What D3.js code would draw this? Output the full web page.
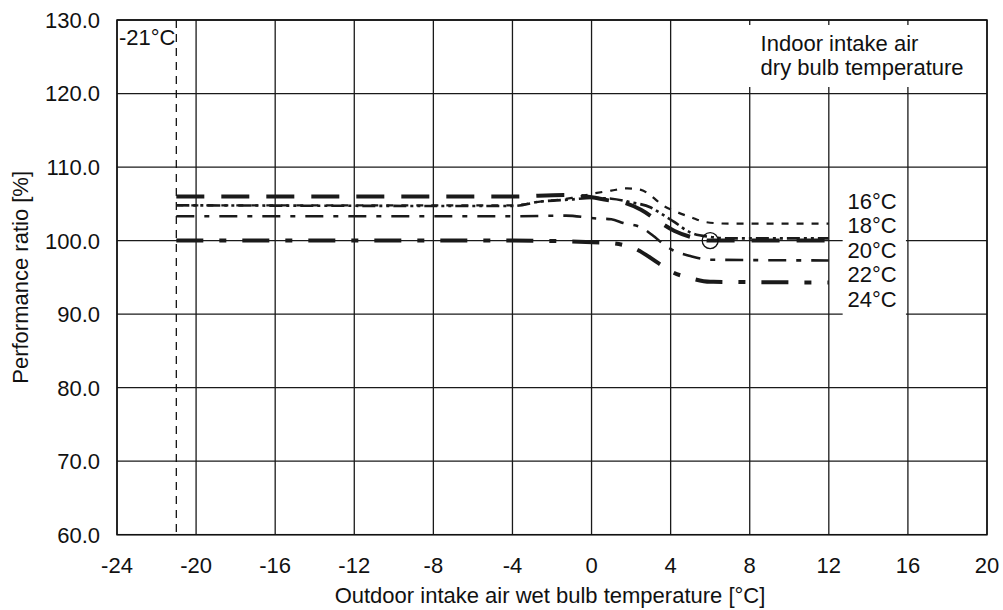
<!DOCTYPE html>
<html>
<head>
<meta charset="utf-8">
<script src="https://cdn.jsdelivr.net/npm/d3@7"></script>
<style>
  body { margin: 0; background: #fff; }
  svg text { font-family: "Liberation Sans", Arial, Helvetica, sans-serif; fill: #111; }
</style>
</head>
<body>
<div id="chart"></div>
<script>
// tick values of both axes
const xTickValues = [-24, -20, -16, -12, -8, -4, 0, 4, 8, 12, 16, 20];
const yTickValues = [60, 70, 80, 90, 100, 110, 120, 130];

// indoor dry bulb temperatures (legend order)
const indoorTemps = ["16°C", "18°C", "20°C", "22°C", "24°C"];

// [outdoor wet bulb °C, performance ratio %]
const curve16 = [[-21, 104.8], [-4, 104.8], [-2.6, 105.3], [-1, 105.8], [0.1, 106.4], [1, 106.8], [1.8, 107.1],
    [2.5, 106.9], [3, 106.1], [3.6, 104.8], [4.3, 103.9], [5, 103.2], [5.8, 102.5], [7, 102.3], [12, 102.3]];
const curve18 = [[-21, 104.8], [-4, 104.7], [-2.6, 105.3], [-1, 105.6], [0, 105.8], [1, 105.7], [2, 105.2],
    [3, 104.5], [3.5, 103.7], [4.2, 102.5], [5, 101.1], [6, 100.5], [7, 100.3], [12, 100.3]];
const curve20 = [[-21, 106], [-4, 106], [-1.4, 106.2], [0, 105.9], [0.8, 105.5], [1.6, 105.2], [2.5, 104.2],
    [3.4, 102.6], [4.2, 101.3], [5, 100.5], [6, 100], [12, 100]];
const curve22 = [[-21, 103.3], [-4, 103.3], [-1.3, 103.4], [0.3, 103.0], [1, 102.9], [1.6, 102.4], [2.5, 101.8],
    [3.1, 100.7], [3.6, 99.6], [4.1, 98.7], [5, 97.9], [6, 97.4], [12, 97.3]];
const curve24 = [[-21, 100], [-4, 100], [0.8, 99.7], [1.6, 99.4], [2.2, 98.9], [3.4, 96.9], [4.1, 95.7],
    [5, 94.9], [6, 94.4], [12, 94.3]];

const curves = [curve16, curve18, curve20, curve22, curve24];

// stroke styling per temperature
const curveStyles = [
    { width: 2.2, dash: "7,8" },
    { width: 2.6, dash: "13,4,3,4,3,4" },
    { width: 4, dash: "28,17" },
    { width: 2.6, dash: "18,10,5,10" },
    { width: 4, dash: "27,16,7,16" }
];

const lowLimit = -21;       // dashed operating limit
const ratedPoint = [6, 100]; // circled nominal point

let WIDTH = 1003, HEIGHT = 610;
let FONT = 22;
let margin = { top: 20, right: 16, bottom: 75.3, left: 117 };
let innerW = WIDTH - margin.left - margin.right;
let innerH = HEIGHT - margin.top - margin.bottom;

let svg = d3.select("#chart").append("svg")
    .attr("width", WIDTH)
    .attr("height", HEIGHT);

let g = svg.append("g").attr("transform", `translate(${margin.left},${margin.top})`);

let x = d3.scaleLinear().domain([-24, 20]).range([0, innerW]);
let y = d3.scaleLinear().domain([60, 130]).range([innerH, 0]);

// grid
g.append("g").selectAll("line").data(xTickValues).enter().append("line")
    .attr("x1", d => x(d)).attr("x2", d => x(d))
    .attr("y1", 0).attr("y2", innerH)
    .attr("stroke", "#1a1a1a").attr("stroke-width", 1.3);
g.append("g").selectAll("line").data(yTickValues).enter().append("line")
    .attr("x1", 0).attr("x2", innerW)
    .attr("y1", d => y(d)).attr("y2", d => y(d))
    .attr("stroke", "#1a1a1a").attr("stroke-width", 1.3);

// frame
g.append("rect")
    .attr("width", innerW).attr("height", innerH)
    .attr("fill", "none").attr("stroke", "#111").attr("stroke-width", 1.5);

// tick labels
g.append("g").selectAll("text").data(xTickValues).enter().append("text")
    .attr("x", d => x(d))
    .attr("y", innerH + 38)
    .attr("text-anchor", "middle")
    .attr("font-size", FONT)
    .text(d => d);
g.append("g").selectAll("text").data(yTickValues).enter().append("text")
    .attr("x", -17)
    .attr("y", d => y(d))
    .attr("dy", "0.36em")
    .attr("text-anchor", "end")
    .attr("font-size", FONT)
    .text(d => d3.format(".1f")(d));

// axis titles
g.append("text")
    .attr("x", (x(-24) + x(20)) / 2 - 2)
    .attr("y", innerH + 68)
    .attr("text-anchor", "middle")
    .attr("font-size", FONT)
    .text("Outdoor intake air wet bulb temperature [°C]");
svg.append("text")
    .attr("transform", `translate(28,${margin.top + innerH / 2}) rotate(-90)`)
    .attr("text-anchor", "middle")
    .attr("font-size", FONT)
    .text("Performance ratio [%]");

// legend title box (covers the grid)
g.append("rect")
    .attr("x", x(7.7)).attr("y", 5)
    .attr("width", innerW - x(7.7) - 1).attr("height", 62)
    .attr("fill", "#fff");
g.append("text")
    .attr("x", x(8.55)).attr("y", 31)
    .attr("font-size", FONT)
    .text("Indoor intake air");
g.append("text")
    .attr("x", x(8.55)).attr("y", 55)
    .attr("font-size", FONT)
    .text("dry bulb temperature");

// temperature labels (covers the grid)
g.append("rect")
    .attr("x", x(12.7)).attr("y", 165)
    .attr("width", x(15.9) - x(12.7)).attr("height", 131)
    .attr("fill", "#fff");
g.append("g").selectAll("text").data(indoorTemps).enter().append("text")
    .attr("x", x(12.95))
    .attr("y", (d, i) => 189 + i * 24.4)
    .attr("font-size", FONT)
    .text(d => d);

// low limit line
g.append("line")
    .attr("x1", x(lowLimit)).attr("x2", x(lowLimit))
    .attr("y1", 0).attr("y2", innerH)
    .attr("stroke", "#111").attr("stroke-width", 1.3)
    .attr("stroke-dasharray", "8,6");
g.append("text")
    .attr("x", 2).attr("y", 25)
    .attr("font-size", FONT)
    .text("-21°C");

// curves
let line = d3.line()
    .x(d => x(d[0]))
    .y(d => y(d[1]))
    .curve(d3.curveMonotoneX);

g.append("g").selectAll("path").data(curves).enter().append("path")
    .attr("d", line)
    .attr("fill", "none")
    .attr("stroke", "#1a1a1a")
    .attr("stroke-width", (d, i) => curveStyles[i].width)
    .attr("stroke-dasharray", (d, i) => curveStyles[i].dash);

// rated point marker
g.append("circle")
    .attr("cx", x(ratedPoint[0])).attr("cy", y(ratedPoint[1]))
    .attr("r", 8)
    .attr("fill", "none")
    .attr("stroke", "#111").attr("stroke-width", 1.3);
</script>
</body>
</html>
